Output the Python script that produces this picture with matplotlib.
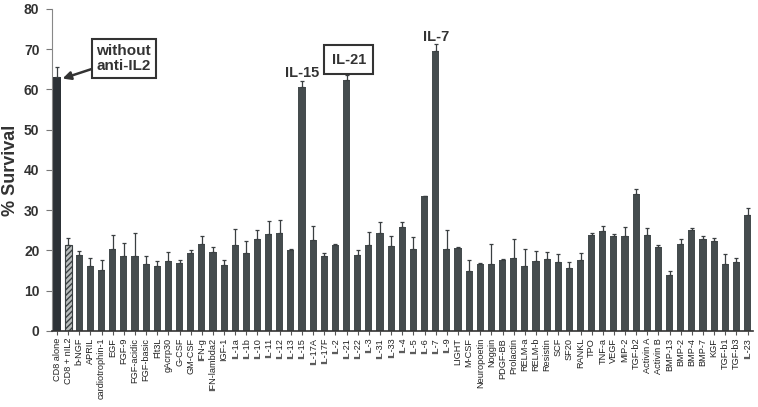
import matplotlib
matplotlib.use("Agg")
import matplotlib.pyplot as plt
import numpy as np

plt.rcParams["font.family"] = ["Liberation Sans", "DejaVu Sans"]

categories = ["CD8 alone", "CD8 + nIL2", "b-NGF", "APRIL", "cardiotrophin-1", "EGF", "FGF-9",
              "FGF-acidic", "FGF-basic", "Flt3L", "gAcrp30", "G-CSF", "GM-CSF", "IFN-g",
              "IFN-lambda2", "IGF-1", "IL-1a", "IL-1b", "IL-10", "IL-11", "IL-12", "IL-13",
              "IL-15", "IL-17A", "IL-17F", "IL-2", "IL-21", "IL-22", "IL-3", "IL-31", "IL-33",
              "IL-4", "IL-5", "IL-6", "IL-7", "IL-9", "LIGHT", "M-CSF", "Neuropoetin", "Noggin",
              "PDGF-BB", "Prolactin", "RELM-a", "RELM-b", "Resistin", "SCF", "SF20", "RANKL",
              "TPO", "TNF-a", "VEGF", "MIP-2", "TGF-b2", "Activin A", "Activin B", "BMP-13",
              "BMP-2", "BMP-4", "BMP-7", "KGF", "TGF-b1", "TGF-b3", "IL-23"]

survival = [63.2, 21.4, 18.8, 16.2, 15.2, 20.4, 18.7, 18.7, 16.5, 16.1, 17.4, 16.9, 19.3, 21.5,
            19.5, 16.4, 21.4, 19.4, 22.9, 24.0, 24.3, 20.2, 60.5, 22.5, 18.6, 21.3, 62.4, 18.9,
            21.4, 24.3, 21.2, 25.9, 20.4, 33.4, 69.6, 20.4, 20.7, 15.0, 16.7, 16.5, 17.6, 18.2,
            16.1, 17.4, 17.9, 17.1, 15.6, 17.6, 23.9, 24.7, 23.7, 23.7, 34.0, 23.9, 20.8, 14.0,
            21.5, 25.0, 22.9, 22.4, 16.7, 17.1, 28.9]

errors = [2.5, 1.6, 1.1, 1.9, 2.4, 3.4, 3.1, 5.7, 2.1, 1.2, 2.2, 0.7, 0.7, 2.0,
          1.3, 1.2, 3.9, 2.9, 2.1, 3.3, 3.3, 0.2, 1.6, 3.6, 0.7, 0.3, 1.3, 1.2,
          3.1, 2.7, 2.3, 1.2, 3.0, 0.1, 1.7, 4.7, 0.2, 2.6, 0.1, 5.0, 0.2, 4.6,
          4.3, 2.5, 1.6, 1.9, 1.6, 1.7, 0.4, 1.4, 0.5, 2.1, 1.3, 1.7, 0.6, 0.8,
          1.3, 0.6, 0.7, 0.8, 2.3, 0.9, 1.7]

yticks = [0, 10, 20, 30, 40, 50, 60, 70, 80]

fig = plt.figure(figsize=(7.58, 4.07), dpi=100)
ax = fig.add_axes([0.0686, 0.187, 0.925, 0.791])

x = np.arange(len(categories))
colors = ["#454c4e"] * len(categories)
colors[0] = "#2c3136"
bars = ax.bar(x, survival, width=0.64, color=colors, edgecolor="none", zorder=2)
bars[1].set_facecolor("#b8bcbc")
bars[1].set_hatch("//////")
bars[1].set_edgecolor("#3a4042")
bars[1].set_linewidth(0.8)

ax.errorbar(x, survival, yerr=[np.zeros(len(errors)), errors], fmt="none",
            ecolor="#3a3f41", elinewidth=0.9, capsize=1.6, capthick=0.9, zorder=3)

ax.set_xlim(-0.45, 62.5)
ax.set_ylim(0, 80)
ax.set_yticks(yticks)
ax.set_yticklabels([str(v) for v in yticks], fontsize=10, fontweight="bold", color="#333333")
ax.set_ylabel("% Survival", fontsize=13, fontweight="bold", color="#333333")
ax.yaxis.set_label_coords(-0.047, 0.5)
ax.set_xticks(x)
ax.set_xticklabels(categories, rotation=90, fontsize=6.6, color="#222222")
ax.tick_params(axis="x", length=3, width=0.8, pad=2, color="#555555")
ax.tick_params(axis="y", length=4, width=0.8, color="#777777", pad=5)
for s in ["top", "right"]:
    ax.spines[s].set_visible(False)
ax.spines["left"].set_color("#888888")
ax.spines["bottom"].set_color("#333333")
ax.spines["bottom"].set_linewidth(1.2)

# annotations
ax.annotate("without\nanti-IL2", xy=(x[0] + 0.5, survival[0] - 0.5), xytext=(6.0, 67.7),
            ha="center", va="center", fontsize=11, fontweight="bold", color="#333333",
            linespacing=1.1,
            bbox=dict(boxstyle="square,pad=0.3", fc="white", ec="#333333", lw=1.5),
            arrowprops=dict(arrowstyle="-|>", color="#333333", lw=1.8, mutation_scale=12,
                            shrinkA=0, shrinkB=0))
i15 = categories.index("IL-15")
ax.text(x[i15], 64.2, "IL-15", ha="center", va="center",
        fontsize=10.5, fontweight="bold", color="#333333")
i21 = categories.index("IL-21")
ax.text(x[i21] + 0.2, 67.4, "IL-21", ha="center", va="center",
        fontsize=10.5, fontweight="bold", color="#333333",
        bbox=dict(boxstyle="square,pad=0.5", fc="white", ec="#333333", lw=1.5))
i7 = categories.index("IL-7")
ax.text(x[i7], 73.0, "IL-7", ha="center", va="center",
        fontsize=10.5, fontweight="bold", color="#333333")

fig.savefig("out.png", dpi=100)
